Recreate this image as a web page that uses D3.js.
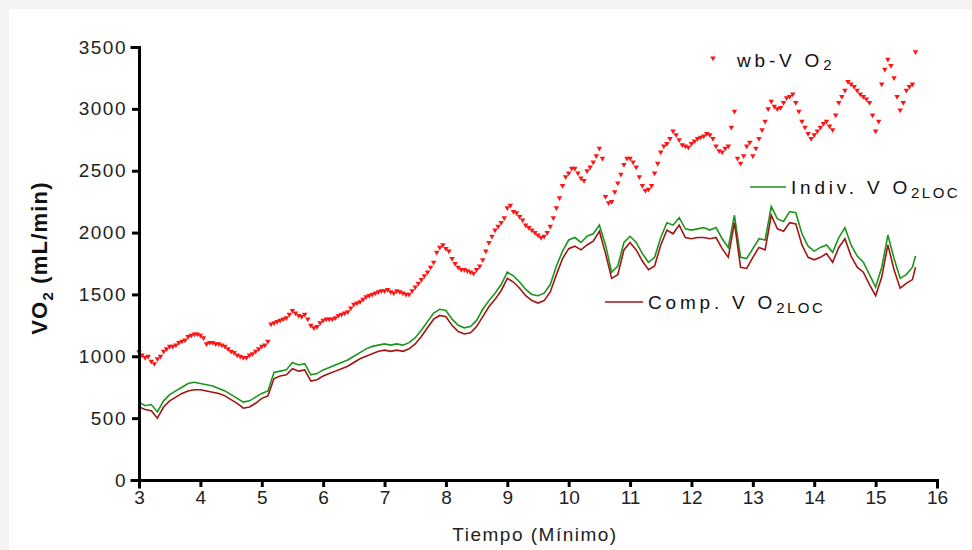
<!DOCTYPE html>
<html>
<head>
<meta charset="utf-8">
<script src="https://cdn.jsdelivr.net/npm/d3@7"></script>
<style>
  body { margin: 0; background: #f3f3f3; }
  svg { display: block; }
  .axis path, .axis line { stroke: #000; stroke-width: 3; }
  .axis text { font-family: Arial, "Liberation Sans", sans-serif; fill: #222; }
  .y-axis text { font-size: 19px; letter-spacing: 1.5px; }
  .x-axis text { font-family: "Liberation Sans Narrow", "Arial Narrow", Arial, sans-serif; font-size: 19px; }
  .legend text { font-family: Arial, "Liberation Sans", sans-serif; font-size: 19px; fill: #111; letter-spacing: 3.8px; }
</style>
</head>
<body>
<div id="chart"></div>
<script>
/* VO2 over time - wb-VO2 scatter + two VO2LOC lines */

const W = 972, H = 550;
const X0 = 139, X1 = 937, Y0 = 480, Y1 = 47;

// time (min) for the lines and main scatter samples
const TIME = [
  3.0, 3.1, 3.2, 3.3, 3.4, 3.5, 3.6, 3.7, 3.8, 3.9,
  4.0, 4.1, 4.2, 4.3, 4.4, 4.5, 4.6, 4.7, 4.8, 4.9,
  5.0, 5.1, 5.2, 5.3, 5.4, 5.5, 5.6, 5.7, 5.8, 5.9,
  6.0, 6.1, 6.2, 6.3, 6.4, 6.5, 6.6, 6.7, 6.8, 6.9,
  7.0, 7.1, 7.2, 7.3, 7.4, 7.5, 7.6, 7.7, 7.8, 7.9,
  8.0, 8.1, 8.2, 8.3, 8.4, 8.5, 8.6, 8.7, 8.8, 8.9,
  9.0, 9.1, 9.2, 9.3, 9.4, 9.5, 9.6, 9.7, 9.8, 9.9,
  10.0, 10.1, 10.2, 10.3, 10.4, 10.5, 10.6, 10.7, 10.8, 10.9,
  11.0, 11.1, 11.2, 11.3, 11.4, 11.5, 11.6, 11.7, 11.8, 11.9,
  12.0, 12.1, 12.2, 12.3, 12.4, 12.5, 12.6, 12.7, 12.8, 12.9,
  13.0, 13.1, 13.2, 13.3, 13.4, 13.5, 13.6, 13.7, 13.8, 13.9,
  14.0, 14.1, 14.2, 14.3, 14.4, 14.5, 14.6, 14.7, 14.8, 14.9,
  15.0, 15.1, 15.2, 15.3, 15.4, 15.5, 15.6, 15.65
];

// whole-body VO2 (mL/min)
const WB_VO2 = [
  1035, 990, 960, 980, 1040, 1080, 1090, 1120, 1160, 1180,
  1170, 1100, 1110, 1100, 1080, 1040, 1010, 990, 1010, 1040,
  1080, 1120, 1270, 1290, 1310, 1370, 1330, 1340, 1250, 1240,
  1290, 1300, 1310, 1340, 1360, 1420, 1440, 1480, 1500, 1520,
  1530, 1520, 1530, 1510, 1500, 1560, 1620, 1680, 1760, 1880,
  1870, 1790, 1720, 1700, 1680, 1700, 1780, 1920, 2020, 2080,
  2200, 2170, 2130, 2060, 2020, 1980, 1970, 2050, 2200, 2380,
  2480, 2520, 2440, 2500, 2570, 2680, 2290, 2250, 2400, 2550,
  2600, 2530, 2380, 2350, 2480, 2650, 2720, 2820, 2750, 2700,
  2720, 2760, 2780, 2790, 2700, 2650, 2700, 2980, 2560, 2700,
  2620, 2760, 2900, 3060, 3000, 3050, 3100, 3050, 2900, 2800,
  2790, 2850, 2900, 2830, 3050, 3150, 3200, 3150, 3100, 3050,
  2820, 3200, 3400, 3250, 2990, 3150, 3200, 3460
];

// in-between scatter samples
const TIME_HALF = [
  3.05, 3.15, 3.25, 3.35, 3.45, 3.55, 3.65, 3.75, 3.85, 3.95,
  4.05, 4.15, 4.25, 4.35, 4.45, 4.55, 4.65, 4.75, 4.85, 4.95,
  5.05, 5.15, 5.25, 5.35, 5.45, 5.55, 5.65, 5.75, 5.85, 5.95,
  6.05, 6.15, 6.25, 6.35, 6.45, 6.55, 6.65, 6.75, 6.85, 6.95,
  7.05, 7.15, 7.25, 7.35, 7.45, 7.55, 7.65, 7.75, 7.85, 7.95,
  8.05, 8.15, 8.25, 8.35, 8.45, 8.55, 8.65, 8.75, 8.85, 8.95,
  9.05, 9.15, 9.25, 9.35, 9.45, 9.55, 9.65, 9.75, 9.85, 9.95,
  10.05, 10.15, 10.25, 10.35, 10.45, 10.55, 10.65, 10.75, 10.85, 10.95,
  11.05, 11.15, 11.25, 11.35, 11.45, 11.55, 11.65, 11.75, 11.85, 11.95,
  12.05, 12.15, 12.25, 12.35, 12.45, 12.55, 12.65, 12.75, 12.85, 12.95,
  13.05, 13.15, 13.25, 13.35, 13.45, 13.55, 13.65, 13.75, 13.85, 13.95,
  14.05, 14.15, 14.25, 14.35, 14.45, 14.55, 14.65, 14.75, 14.85, 14.95,
  15.05, 15.15, 15.25, 15.35, 15.45, 15.55
];

const WB_HALF = [
  1010, 1000, 940, 1000, 1060, 1080, 1110, 1130, 1170, 1180,
  1150, 1110, 1100, 1090, 1060, 1030, 1000, 990, 1020, 1060,
  1090, 1260, 1280, 1300, 1340, 1350, 1320, 1300, 1230, 1270,
  1300, 1300, 1330, 1350, 1390, 1430, 1460, 1490, 1510, 1530,
  1540, 1510, 1520, 1500, 1530, 1590, 1650, 1720, 1840, 1900,
  1850, 1750, 1700, 1690, 1670, 1730, 1850, 1970, 2050, 2120,
  2220, 2160, 2100, 2040, 2000, 1960, 2000, 2120, 2280, 2450,
  2520, 2480, 2420, 2530, 2620, 2600, 2240, 2330, 2470, 2600,
  2570, 2450, 2340, 2380, 2560, 2700, 2760, 2790, 2710, 2690,
  2740, 2770, 2800, 2760, 2660, 2680, 2850, 2600, 2620, 2730,
  2680, 2830, 3000, 3020, 3010, 3090, 3120, 2980, 2850, 2760,
  2820, 2880, 2860, 2950, 3100, 3220, 3180, 3120, 3080, 2950,
  2900, 3320, 3350, 3100, 3050, 3180
];

// individual VO2LOC
const INDIV = [
  630, 600, 610, 550, 640, 690, 720, 750, 780, 790,
  780, 770, 760, 740, 720, 690, 660, 630, 640, 670,
  700, 720, 870, 880, 890, 950, 930, 940, 850, 860,
  890, 910, 930, 950, 970, 1000, 1030, 1060, 1080, 1090,
  1100, 1090, 1100, 1090, 1110, 1150, 1210, 1280, 1350, 1380,
  1370, 1300, 1250, 1230, 1240, 1290, 1380, 1450, 1510, 1580,
  1680, 1650, 1600, 1540, 1500, 1490, 1510, 1580, 1730, 1850,
  1940, 1960, 1920, 1970, 1990, 2060, 1900, 1680, 1730, 1920,
  1970, 1920, 1830, 1760, 1800, 1960, 2080, 2060, 2120, 2030,
  2020, 2030, 2040, 2020, 2040, 1950, 1880, 2140, 1800, 1790,
  1870, 1950, 1940, 2210, 2110, 2090, 2170, 2160, 1990, 1890,
  1850, 1880, 1900, 1840, 1960, 2040, 1900, 1810, 1760, 1660,
  1560, 1720, 1980, 1790, 1630, 1660, 1720, 1810
];

// composite VO2LOC
const COMP = [
  590, 570, 560, 500, 590, 640, 670, 700, 720, 730,
  730, 720, 710, 700, 680, 650, 620, 580, 590, 620,
  660, 680, 820, 840, 850, 900, 880, 890, 800, 810,
  840, 860, 880, 900, 920, 950, 980, 1000, 1020, 1040,
  1050, 1040, 1050, 1040, 1060, 1100, 1160, 1230, 1300, 1330,
  1320, 1250, 1200, 1180, 1190, 1240, 1320, 1400, 1460, 1530,
  1630, 1600, 1550, 1490, 1450, 1430, 1450, 1520, 1660, 1790,
  1870, 1890, 1860, 1900, 1930, 2010, 1830, 1630, 1660, 1860,
  1920, 1860, 1770, 1700, 1730, 1900, 2020, 1990, 2060, 1960,
  1950, 1960, 1960, 1950, 1960, 1870, 1800, 2080, 1720, 1710,
  1800, 1880, 1860, 2140, 2030, 2010, 2080, 2070, 1900, 1800,
  1780, 1800, 1830, 1760, 1880, 1950, 1810, 1720, 1680, 1580,
  1490, 1640, 1900, 1700, 1550, 1590, 1620, 1720
];

const X_TICKS = [3, 4, 5, 6, 7, 8, 9, 10, 11, 12, 13, 14, 15, 16];
const Y_TICKS = [0, 500, 1000, 1500, 2000, 2500, 3000, 3500];

const GREEN = "#1a961a", DARKRED = "#a31515", RED = "#ff1414";

const svg = d3.select("#chart").append("svg").attr("width", W).attr("height", H);

// white panel on gray frame
svg.append("rect").attr("x", 9).attr("y", 9).attr("width", W - 9).attr("height", H - 9).attr("fill", "#fff");

const x = d3.scaleLinear().domain([3, 16]).range([X0, X1]);
const y = d3.scaleLinear().domain([0, 3500]).range([Y0, Y1]);

const line = (vals) => d3.line().x((d, i) => x(TIME[i])).y((d) => y(d))(vals);

svg.append("path").attr("d", line(INDIV)).attr("fill", "none").attr("stroke", GREEN).attr("stroke-width", 1.6);
svg.append("path").attr("d", line(COMP)).attr("fill", "none").attr("stroke", DARKRED).attr("stroke-width", 1.6);

// wb-VO2 markers (small downward triangles)
const tri = d3.symbol().type(d3.symbolTriangle).size(13);
const wbPts = TIME.map((t, i) => [t, WB_VO2[i]]).concat(TIME_HALF.map((t, i) => [t, WB_HALF[i]]));
svg.append("g").selectAll("path").data(wbPts).join("path")
  .attr("d", tri)
  .attr("transform", (d) => `translate(${x(d[0])},${y(d[1])}) rotate(180)`)
  .attr("fill", RED);

// axes
svg.append("g").attr("class", "axis x-axis")
  .attr("transform", `translate(0,${Y0})`)
  .call(d3.axisBottom(x).tickValues(X_TICKS).tickSize(7).tickPadding(4).tickFormat(d3.format("d")));

svg.append("g").attr("class", "axis y-axis")
  .attr("transform", `translate(${X0},0)`)
  .call(d3.axisLeft(y).tickValues(Y_TICKS).tickSize(7).tickPadding(5).tickFormat(d3.format("d")));

svg.selectAll(".axis path.domain").attr("stroke-linecap", "square");

// axis titles
svg.append("text")
  .attr("x", 535).attr("y", 541)
  .attr("text-anchor", "middle")
  .style("font-family", "'Liberation Sans Narrow', 'Arial Narrow', Arial, sans-serif")
  .style("font-size", "19px").style("letter-spacing", "1.5px").attr("fill", "#222")
  .text("Tiempo (Mínimo)");

const yt = svg.append("text")
  .attr("transform", "translate(47,258) rotate(-90)")
  .attr("text-anchor", "middle")
  .style("font-family", "Arial, sans-serif").style("font-size", "22px").style("font-weight", "bold")
  .style("letter-spacing", "1.2px").attr("fill", "#111");
yt.append("tspan").text("VO");
yt.append("tspan").attr("dy", 6).style("font-size", "15px").text("2");
yt.append("tspan").attr("dy", -6).text(" (mL/min)");

// legend
const lg = svg.append("g").attr("class", "legend");
lg.append("path").attr("d", tri).attr("transform", "translate(713,58) rotate(180)").attr("fill", RED);
const t1 = lg.append("text").attr("x", 737).attr("y", 67);
t1.append("tspan").text("wb-V O");
t1.append("tspan").attr("dy", 3).style("font-size", "15px").text("2");

lg.append("line").attr("x1", 750).attr("x2", 786).attr("y1", 187).attr("y2", 187).attr("stroke", GREEN).attr("stroke-width", 1.6);
const t2 = lg.append("text").attr("x", 791).attr("y", 194);
t2.append("tspan").text("Indiv. V O");
t2.append("tspan").attr("dy", 4).style("font-size", "15px").style("letter-spacing", "2.5px").text("2LOC");

lg.append("line").attr("x1", 605).attr("x2", 643).attr("y1", 302).attr("y2", 302).attr("stroke", DARKRED).attr("stroke-width", 1.6);
const t3 = lg.append("text").attr("x", 648).attr("y", 309);
t3.append("tspan").text("Comp. V O");
t3.append("tspan").attr("dy", 4).style("font-size", "15px").style("letter-spacing", "2.5px").text("2LOC");
</script>
</body>
</html>
